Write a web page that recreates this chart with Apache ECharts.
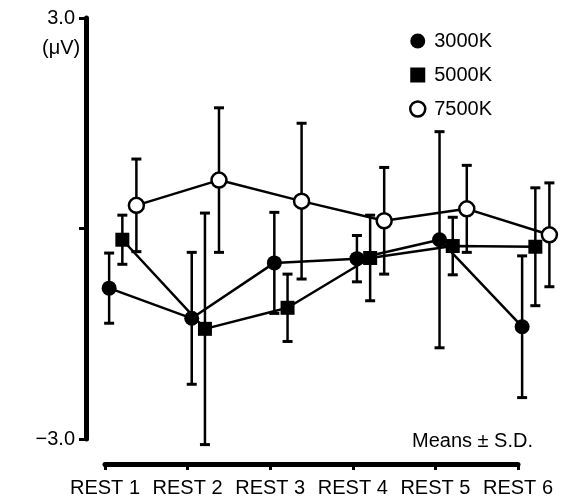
<!DOCTYPE html>
<html>
<head>
<meta charset="utf-8">
<script src="https://cdn.jsdelivr.net/npm/echarts@6/dist/echarts.min.js"></script>
<style>
html,body{margin:0;padding:0;background:#fff;}
#chart{width:567px;height:503px;}
</style>
</head>
<body>
<div id="chart"></div>
<script>
// ---- data ----
const categories = ['REST 1', 'REST 2', 'REST 3', 'REST 4', 'REST 5', 'REST 6'];
const seriesNames = ['3000K', '5000K', '7500K'];
const mean3000 = [-0.85, -1.28, -0.49, -0.43, -0.16, -1.40];
const sd3000   = [0.50, 0.94, 0.72, 0.33, 1.54, 1.01];
const mean5000 = [-0.16, -1.43, -1.13, -0.42, -0.25, -0.26];
const sd5000   = [0.35, 1.65, 0.48, 0.61, 0.41, 0.84];
const mean7500 = [0.33, 0.69, 0.39, 0.11, 0.28, -0.09];
const sd7500   = [0.66, 1.03, 1.11, 0.76, 0.62, 0.74];
const yTicks = [-3, 0, 3];
const yTickLabels = ['\u22123.0', '', '3.0'];

// ---- layout / style ----
const FONT = "'Liberation Sans', Arial, sans-serif";
const offsets = [0.05, 0.21, 0.38];   // horizontal shift of each group within a category
const means = [mean3000, mean5000, mean7500];
const sds = [sd3000, sd5000, sd7500];
const symbols = ['circle', 'rect', 'circle'];
const symbolSizes = [15, 14, 15];
const fills = ['#000', '#000', '#fff'];

// axis frame: categories 1..6 span x = 105..518
const GL = 105, GR_AXIS = 49, GR_DATA = 10, GT = 18, GB = 64;
const W = 567;
const unitPx = (W - GL - GR_AXIS) / 5;
const dataMax = 1 + (W - GL - GR_DATA) / unitPx;

const chart = echarts.init(document.getElementById('chart'), null, {renderer: 'canvas'});

const series = [];
means.forEach((m, k) => {
  series.push({
    type: 'custom',
    name: seriesNames[k] + ' SD',
    xAxisIndex: 0, yAxisIndex: 0,
    z: 1,
    silent: true,
    data: m.map((v, i) => [i + 1 + offsets[k], v, sds[k][i]]),
    renderItem: function (params, api) {
      const x = api.value(0), mu = api.value(1), s = api.value(2);
      const top = api.coord([x, mu + s]);
      const bot = api.coord([x, mu - s]);
      const hw = 5;
      return {
        type: 'group',
        children: [
          {type: 'line', shape: {x1: top[0], y1: top[1], x2: bot[0], y2: bot[1]}, style: {stroke: '#000', lineWidth: 2.5}},
          {type: 'line', shape: {x1: top[0] - hw, y1: top[1], x2: top[0] + hw, y2: top[1]}, style: {stroke: '#000', lineWidth: 3}},
          {type: 'line', shape: {x1: bot[0] - hw, y1: bot[1], x2: bot[0] + hw, y2: bot[1]}, style: {stroke: '#000', lineWidth: 3}}
        ]
      };
    }
  });
});
means.forEach((m, k) => {
  series.push({
    type: 'line',
    name: seriesNames[k],
    xAxisIndex: 0, yAxisIndex: 0,
    z: 3,
    clip: false,
    data: m.map((v, i) => [i + 1 + offsets[k], v]),
    symbol: symbols[k],
    symbolSize: symbolSizes[k],
    showAllSymbol: true,
    lineStyle: {color: '#000', width: 2.5},
    itemStyle: {color: fills[k], borderColor: '#000', borderWidth: k === 2 ? 2.5 : 0},
    emphasis: {disabled: true},
    animation: false
  });
});

const option = {
  animation: false,
  backgroundColor: '#fff',
  title: [
    {text: '(\u03bcV)', left: 37, top: 33, textStyle: {fontFamily: FONT, fontSize: 20, fontWeight: 'normal', color: '#000'}},
    {text: 'Means \u00b1 S.D.', left: 407, top: 426, textStyle: {fontFamily: FONT, fontSize: 20, fontWeight: 'normal', color: '#000'}}
  ],
  legend: {
    orient: 'vertical',
    left: 404,
    top: 26,
    itemGap: 14,
    itemWidth: 15,
    itemHeight: 15,
    selectedMode: false,
    textStyle: {fontFamily: FONT, fontSize: 20, color: '#000', padding: [0, 0, 0, 4]},
    data: [
      {name: seriesNames[0], icon: 'circle', itemStyle: {color: '#000', borderWidth: 0}},
      {name: seriesNames[1], icon: 'rect', itemStyle: {color: '#000', borderWidth: 0}},
      {name: seriesNames[2], icon: 'circle', itemStyle: {color: '#fff', borderColor: '#000', borderWidth: 2.5}}
    ]
  },
  grid: [
    {left: GL, right: GR_DATA, top: GT, bottom: GB, containLabel: false},
    {left: GL, right: GR_AXIS, top: GT, bottom: GB, containLabel: false}
  ],
  xAxis: [
    {
      type: 'value', gridIndex: 0, min: 1, max: dataMax, show: false
    },
    {
      type: 'value',
      gridIndex: 1,
      min: 1,
      max: 6,
      interval: 1,
      offset: 25,
      axisLine: {show: true, onZero: false, lineStyle: {color: '#000', width: 5}},
      axisTick: {show: true, length: 6, inside: false, lineStyle: {color: '#000', width: 3}},
      splitLine: {show: false},
      axisLabel: {
        fontFamily: FONT, fontSize: 20, color: '#000', margin: 14,
        formatter: v => categories[Math.round(v) - 1] || ''
      }
    }
  ],
  yAxis: [
    {type: 'value', gridIndex: 0, min: -3, max: 3, show: false},
    {
      type: 'value',
      gridIndex: 1,
      min: -3,
      max: 3,
      interval: 3,
      offset: 19,
      axisLine: {show: true, onZero: false, lineStyle: {color: '#000', width: 5}},
      axisTick: {show: true, length: 7, inside: false, lineStyle: {color: '#000', width: 3}},
      splitLine: {show: false},
      axisLabel: {
        fontFamily: FONT, fontSize: 20, color: '#000', margin: 11,
        formatter: v => {
          const idx = yTicks.indexOf(Math.round(v));
          return idx >= 0 ? yTickLabels[idx] : '';
        }
      }
    }
  ],
  series: series
};
chart.setOption(option);
</script>
</body>
</html>
